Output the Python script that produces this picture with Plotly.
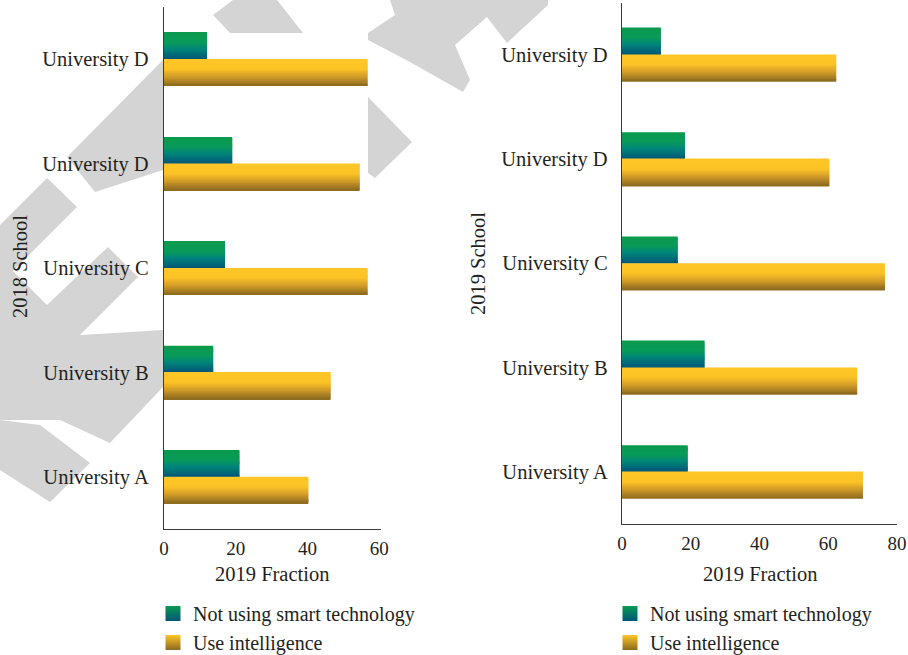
import plotly.graph_objects as go

# ---------------- data ----------------
schools = ["University A", "University B", "University C", "University D", "University D"]
series_names = ["Not using smart technology", "Use intelligence"]
not_using_2018 = [21.0, 13.7, 17.0, 19.0, 12.0]
use_intel_2018 = [40.2, 46.4, 56.7, 54.5, 56.7]
not_using_2019 = [19.1, 24.0, 16.2, 18.3, 11.3]
use_intel_2019 = [70.1, 68.4, 76.5, 60.3, 62.3]
xticks_2018 = [0, 20, 40, 60]
xticks_2019 = [0, 20, 40, 60, 80]
ypos = list(range(len(schools)))

# ---------------- style ----------------
W, H = 908, 655
FONT = "'Liberation Serif', 'Times New Roman', Times, serif"
TXT = "#231f20"
green_stops = [(0.0, (11, 154, 76)), (0.38, (8, 154, 90)), (0.62, (0, 133, 122)), (1.0, (0, 86, 120))]
yellow_stops = [(0.0, (254, 198, 39)), (0.38, (252, 195, 38)), (0.68, (207, 154, 39)), (1.0, (139, 106, 32))]


def lerp(stops, t):
    for (t0, c0), (t1, c1) in zip(stops[:-1], stops[1:]):
        if t0 <= t <= t1:
            f = (t - t0) / (t1 - t0) if t1 > t0 else 0
            c = [round(a + (b - a) * f) for a, b in zip(c0, c1)]
            return "rgb(%d,%d,%d)" % tuple(c)
    return "rgb(%d,%d,%d)" % stops[-1][1]


def px(x, y):
    return x / W, 1 - y / H


fig = go.Figure()

N = 28
BW = 0.255


def gradient_bars(xvals, stops, above, xa, ya):
    step = BW / N
    extra = step * 0.5
    for k in range(N):
        col = lerp(stops, (k + 0.5) / N)
        if above:
            off = BW * (N - k - 1) / N
        else:
            off = -BW * (k + 1) / N
        wid = step
        if k < N - 1:
            off -= extra
            wid += extra
        fig.add_trace(go.Bar(
            x=xvals, y=ypos, orientation="h", offset=off, width=wid,
            marker=dict(color=col, line=dict(width=0)),
            xaxis=xa, yaxis=ya, showlegend=False, hoverinfo="skip"))


gradient_bars(not_using_2018, green_stops, True, "x", "y")
gradient_bars(use_intel_2018, yellow_stops, False, "x", "y")
gradient_bars(not_using_2019, green_stops, True, "x2", "y2")
gradient_bars(use_intel_2019, yellow_stops, False, "x2", "y2")

# legend entries (gradient squares)
for lg, xa, ya in (("legend", "x", "y"), ("legend2", "x2", "y2")):
    for name, stops in zip(series_names, (green_stops, yellow_stops)):
        fig.add_trace(go.Scatter(
            x=[None], y=[None], mode="markers", name=name, legend=lg,
            xaxis=xa, yaxis=ya,
            marker=dict(symbol="square", size=15, color=lerp(stops, 0.15),
                        gradient=dict(type="vertical", color=lerp(stops, 1.0)),
                        line=dict(width=0))))

axis_common = dict(showline=True, linecolor="#3a3a3a", linewidth=1.4, ticks="",
                   showgrid=False, zeroline=False, fixedrange=True, automargin=False,
                   tickfont=dict(family=FONT, size=19, color=TXT))
ytickfont = dict(family=FONT, size=20.5, color=TXT)

fig.update_layout(
    width=W, height=H, margin=dict(l=0, r=0, t=0, b=0, autoexpand=False),
    paper_bgcolor="white", plot_bgcolor="rgba(0,0,0,0)",
    barmode="overlay", font=dict(family=FONT, color=TXT),
    xaxis=dict(domain=[164 / W, 381 / W], range=[0, 60.47], tickvals=xticks_2018,
               anchor="y", ticklabelstandoff=2, **axis_common),
    yaxis=dict(domain=[1 - 529 / H, 1 - 7 / H], range=[-0.5, 4.5], tickvals=ypos,
               ticktext=schools, anchor="x", ticklabelstandoff=10,
               **{**axis_common, "tickfont": ytickfont}),
    xaxis2=dict(domain=[622 / W, 897 / W], range=[0, 80], tickvals=xticks_2019,
                anchor="y2", ticklabelstandoff=2, **axis_common),
    yaxis2=dict(domain=[1 - 524 / H, 1 - 2.5 / H], range=[-0.5, 4.5], tickvals=ypos,
                ticktext=schools, anchor="x2", ticklabelstandoff=9,
                **{**axis_common, "tickfont": ytickfont}),
    legend=dict(x=153 / W, y=1 - 594 / H, xanchor="left", yanchor="top",
                font=dict(family=FONT, size=20, color=TXT), bgcolor="rgba(0,0,0,0)"),
    legend2=dict(x=610 / W, y=1 - 594 / H, xanchor="left", yanchor="top",
                 font=dict(family=FONT, size=20, color=TXT), bgcolor="rgba(0,0,0,0)"),
)

# axis titles
ann = [
    dict(text="2019 Fraction", x=272 / W, y=1 - 574 / H),
    dict(text="2019 Fraction", x=760 / W, y=1 - 574 / H),
    dict(text="2018 School", x=20 / W, y=1 - 267 / H, textangle=-90),
    dict(text="2019 School", x=478 / W, y=1 - 264 / H, textangle=-90),
]
for a in ann:
    fig.add_annotation(xref="paper", yref="paper", showarrow=False,
                       xanchor="center", yanchor="middle",
                       font=dict(family=FONT, size=20.5, color=TXT), **a)

# faint background watermark (decorative)
GRAY = "#d4d4d4"
wm = [
    [(233, 0), (213, 15), (230, 33), (303, 33), (277, 0)],
    [(390, 0), (548, 0), (548, 5), (507, 43), (487, 17), (455, 45), (470, 80), (463, 92),
     (410, 62), (368, 40), (368, 33), (395, 15)],
    [(368, 97), (412, 142), (375, 178), (368, 173)],
    [(163, 60), (163, 170), (95, 192), (67, 157)],
    [(0, 225), (47, 178), (77, 207), (13, 271), (47, 305), (108, 247), (138, 277),
     (60, 355), (0, 355)],
    [(0, 340), (163, 330), (163, 387), (110, 443), (60, 420), (0, 420)],
    [(0, 420), (40, 425), (90, 463), (50, 502), (0, 470)],
]
for poly in wm:
    pts = [px(x, y) for x, y in poly]
    path = "M " + " L ".join("%.4f,%.4f" % p for p in pts) + " Z"
    fig.add_shape(type="path", path=path, xref="paper", yref="paper",
                  fillcolor=GRAY, line=dict(width=0), layer="below")
x0, y0 = px(164, 33)
x1, y1 = px(368, 529)
fig.add_shape(type="rect", xref="paper", yref="paper", x0=x0, x1=x1, y0=y1, y1=y0,
              fillcolor="white", line=dict(width=0), layer="below")

fig.write_html("out.html")
